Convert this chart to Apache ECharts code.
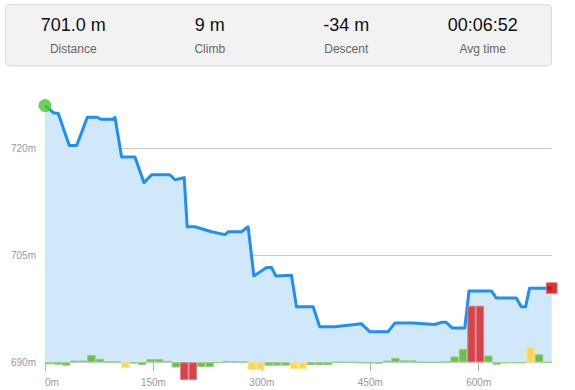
<!DOCTYPE html>
<html><head><meta charset="utf-8">
<script src="https://cdn.jsdelivr.net/npm/echarts@6/dist/echarts.min.js"></script>
<style>html,body{margin:0;padding:0;background:#fff}#c{width:575px;height:390px}</style>
</head><body><div id="c"></div>
<script>
// Summary stats
const statValues = ['701.0 m', '9 m', '-34 m', '00:06:52'];
const statLabels = ['Distance', 'Climb', 'Descent', 'Avg time'];

// Elevation profile (distance in m, elevation in m)
const distance = [0, 11.5, 18.4, 33.6, 43.8, 58.5, 72.3, 77, 94.4, 96.8, 106, 124.4, 136.9, 147.5, 172.8, 179.7, 192.6, 196.7, 207.4, 230.5, 248.9, 253.5, 271.9, 281, 289, 306.5, 313.4, 319.4, 341, 347.9, 371, 380, 400.9, 437.8, 449.3, 474.7, 484, 509, 539, 548.4, 555, 563.6, 580.7, 586.6, 617.5, 624.4, 652, 658.9, 664.9, 670.4, 693.6, 701];
const elevation = [726.0, 725.0, 724.9, 720.4, 720.4, 724.35, 724.35, 724.07, 724.07, 724.35, 718.8, 718.8, 715.2, 716.3, 716.3, 715.6, 715.9, 709.0, 709.0, 708.3, 707.9, 708.3, 708.3, 709.0, 702.1, 703.3, 703.3, 702.1, 702.2, 697.8, 697.8, 695.0, 695.0, 695.4, 694.3, 694.3, 695.5, 695.5, 695.3, 695.6, 695.6, 694.8, 694.8, 700.0, 700.0, 699.0, 699.0, 697.8, 697.8, 700.4, 700.4, 700.4];

// Gradient per segment (60 equal segments)
const gradient = [-1.0, -1.2, -1.7, 0.9, 0.9, 3.7, 1.7, 0.3, 0.2, -2.9,
  -0.6, -1.4, 1.6, 1.6, 0.7, -2.6, -8.9, -8.9, -2.4, -2.4,
  -0.2, 0.7, 0.5, 0.2, -3.8, -3.8, -1.7, -1.7, -1.7, -3.5,
  -3.5, -1.5, -1.5, -1.5, 0, 0, 0, -0.5, -0.5, -0.7,
  0.9, 2.2, 1.0, 1.0, 0, 0, 0, 0.2, 2.9, 6.7,
  28.3, 28.3, 3.4, -1.2, -0.5, -0.4, -0.4, 7.5, 4.0, 0];
const segments = gradient.map((_, i) => 'S' + (i + 1));
const upLevels = [7, 15];
const downLevels = [-2.8, -6];

// Axis ticks
const xTicks = [0, 150, 300, 450, 600];
const yMin = 690, yMax = 728, yStep = 15;

const GREEN = ['#6abf4b', '#93d07a'], YELLOW = ['#fdd64f', '#fde48e'], RED = ['#d5444b', '#e27d83'];
function gradeColor(v) {
  if (v >= upLevels[1] || v <= downLevels[1]) return RED;
  if (v >= upLevels[0] || v <= downLevels[0]) return YELLOW;
  return GREEN;
}

const FONT = '"Liberation Sans", Arial, sans-serif';
const chart = echarts.init(document.getElementById('c'), null, {renderer: 'svg'});

const headerX = 5, headerW = 546;
const graphics = [{
  type: 'rect', shape: {x: 5.5, y: 4.5, width: headerW, height: 61.5, r: 4},
  style: {fill: '#f2f2f2', stroke: '#dcdcdc', lineWidth: 1}, z: 0
}];
statValues.forEach((v, i) => {
  const cx = headerX + headerW / 8 * (2 * i + 1);
  graphics.push({type: 'text', x: cx, y: 25, style: {text: v, fill: '#111', font: '18px ' + FONT, align: 'center', verticalAlign: 'middle'}});
  graphics.push({type: 'text', x: cx, y: 49, style: {text: statLabels[i], fill: '#666', font: '12px ' + FONT, align: 'center', verticalAlign: 'middle'}});
});

chart.setOption({
  animation: false,
  backgroundColor: '#fff',
  textStyle: {fontFamily: FONT},
  graphic: graphics,
  grid: [
    {left: 45, right: 23.3, top: 91.3, bottom: 27.7},
    {left: 45, right: 23.3, top: 282.3, bottom: 7.7}
  ],
  xAxis: [{
    type: 'value', gridIndex: 0, min: 0, max: 701,
    axisLine: {lineStyle: {color: '#c8c8c8'}},
    axisTick: {customValues: xTicks, length: 9, lineStyle: {color: '#b0b0b0'}},
    axisLabel: {customValues: xTicks, formatter: '{value}m', color: '#999', fontSize: 10, margin: 15, alignMinLabel: 'left'},
    splitLine: {show: false}
  }, {
    type: 'category', gridIndex: 1, data: segments, show: false
  }],
  yAxis: [{
    type: 'value', gridIndex: 0, min: yMin, max: yMax, interval: yStep,
    axisLine: {show: false}, axisTick: {show: false},
    axisLabel: {formatter: '{value}m', color: '#999', fontSize: 10, margin: 9, showMaxLabel: false},
    splitLine: {lineStyle: {color: '#c8c8c8'}, showMaxLine: false}
  }, {
    type: 'value', gridIndex: 1, min: -10, max: 40, show: false
  }],
  series: [{
    type: 'line', xAxisIndex: 0, yAxisIndex: 0, z: 2,
    data: distance.map((d, i) => [d, elevation[i]]),
    showSymbol: false,
    lineStyle: {color: '#1e8ff5', width: 3, join: 'round'},
    areaStyle: {color: '#d1e7fa', opacity: 1, origin: 'start'}
  }, {
    type: 'bar', xAxisIndex: 1, yAxisIndex: 1, z: 3,
    barCategoryGap: '0%', barWidth: '100%',
    data: gradient.map(v => ({value: v, itemStyle: {color: gradeColor(v)[0], borderColor: gradeColor(v)[1]}})),
    itemStyle: {borderWidth: 1}
  }, {
    type: 'scatter', xAxisIndex: 0, yAxisIndex: 0, z: 5,
    data: [{value: [distance[0], elevation[0]], symbol: 'circle', symbolSize: 13, itemStyle: {color: '#46c832'}},
           {value: [distance[distance.length - 1], elevation[elevation.length - 1]], symbol: 'rect', symbolSize: 11,
            itemStyle: {color: '#d20000', borderColor: '#f08a8a', borderWidth: 1}}]
  }]
});
</script></body></html>
